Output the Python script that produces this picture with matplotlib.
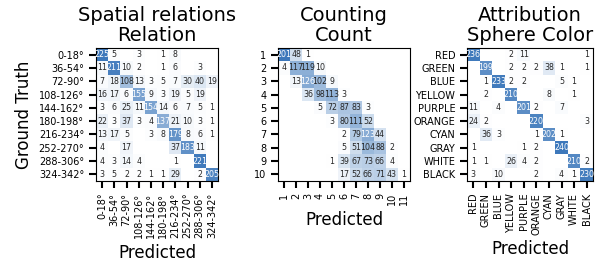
import numpy as np
import matplotlib
matplotlib.use("Agg")
import matplotlib.pyplot as plt
from matplotlib.colors import LinearSegmentedColormap

spatial_labels = ["0-18°", "36-54°", "72-90°", "108-126°", "144-162°", "180-198°",
                  "216-234°", "252-270°", "288-306°", "324-342°"]
spatial = [
    [225, 5, 0, 3, 0, 1, 8, 0, 0, 0],
    [11, 211, 10, 2, 0, 1, 6, 0, 3, 0],
    [7, 18, 108, 13, 3, 5, 7, 30, 40, 19],
    [16, 17, 6, 155, 9, 3, 19, 5, 19, 0],
    [3, 6, 25, 11, 154, 14, 6, 7, 5, 1],
    [22, 3, 37, 3, 4, 137, 21, 10, 3, 1],
    [13, 17, 5, 0, 3, 8, 179, 8, 6, 1],
    [4, 0, 17, 0, 0, 0, 37, 183, 11, 0],
    [4, 3, 14, 4, 0, 0, 1, 0, 221, 0],
    [3, 5, 2, 2, 1, 1, 29, 0, 2, 205],
]

count_rows = ["1", "2", "3", "4", "5", "6", "7", "8", "9", "10"]
count_cols = ["1", "2", "3", "4", "5", "6", "7", "8", "9", "10", "11"]
counting = [
    [201, 48, 1, 0, 0, 0, 0, 0, 0, 0, 0],
    [4, 117, 119, 10, 0, 0, 0, 0, 0, 0, 0],
    [0, 13, 126, 102, 9, 0, 0, 0, 0, 0, 0],
    [0, 0, 36, 98, 113, 3, 0, 0, 0, 0, 0],
    [0, 0, 0, 5, 72, 87, 83, 3, 0, 0, 0],
    [0, 0, 0, 0, 3, 80, 111, 52, 0, 0, 0],
    [0, 0, 0, 0, 0, 2, 79, 123, 44, 0, 0],
    [0, 0, 0, 0, 0, 5, 51, 104, 88, 2, 0],
    [0, 0, 0, 0, 1, 39, 67, 73, 66, 4, 0],
    [0, 0, 0, 0, 0, 17, 52, 66, 71, 43, 1],
]

color_labels = ["RED", "GREEN", "BLUE", "YELLOW", "PURPLE", "ORANGE", "CYAN",
                "GRAY", "WHITE", "BLACK"]
colors = [
    [236, 0, 0, 2, 11, 0, 0, 0, 0, 1],
    [0, 199, 0, 2, 2, 2, 38, 1, 0, 1],
    [0, 1, 233, 2, 2, 0, 0, 5, 1, 0],
    [0, 2, 0, 210, 0, 0, 8, 0, 1, 0],
    [11, 0, 4, 0, 201, 2, 0, 7, 0, 0],
    [24, 2, 0, 0, 0, 220, 0, 0, 0, 3],
    [0, 36, 3, 0, 0, 1, 202, 1, 0, 0],
    [1, 0, 0, 0, 1, 2, 0, 240, 0, 0],
    [1, 1, 0, 26, 4, 2, 0, 0, 210, 2],
    [3, 0, 10, 0, 0, 2, 0, 4, 1, 230],
]

cmap = LinearSegmentedColormap.from_list("b", ["#ffffff", "#3d78bb"])

fig = plt.figure(figsize=(6.01, 2.69), dpi=100)
axes_pos = [
    (96, 218),
    (278, 410),
    (467, 593),
]
top, bottom = 48, 181
W, H = 601, 269

def draw(ax, data, xl, yl, title):
    data = np.array(data)
    nr, nc = data.shape
    ax.imshow(data, cmap=cmap, vmin=0, vmax=data.max(), aspect="auto",
              interpolation="nearest")
    for i in range(nr):
        for j in range(nc):
            v = data[i, j]
            if v == 0:
                continue
            col = "white" if v / data.max() > 0.6 else "#262626"
            ax.text(j, i, str(v), ha="center", va="center", fontsize=5.7, color=col)
    ax.set_xticks(range(nc))
    ax.set_xticklabels(xl, rotation=90, fontsize=7)
    ax.set_yticks(range(nr))
    ax.set_yticklabels(yl, fontsize=7)
    ax.tick_params(length=5, width=1.5)
    ax.set_title(title, fontsize=14, linespacing=1.05, pad=5)
    ax.set_xlabel("Predicted", fontsize=12)

titles = ["Spatial relations\nRelation", "Counting\nCount", "Attribution\nSphere Color"]
datas = [spatial, counting, colors]
xls = [spatial_labels, count_cols, color_labels]
yls = [spatial_labels, count_rows, color_labels]
for k in range(3):
    l, r = axes_pos[k]
    ax = fig.add_axes([l / W, 1 - bottom / H, (r - l) / W, (bottom - top) / H])
    draw(ax, datas[k], xls[k], yls[k], titles[k])
    if k == 0:
        ax.set_ylabel("Ground Truth", fontsize=12)

fig.savefig("out.png", dpi=100)
